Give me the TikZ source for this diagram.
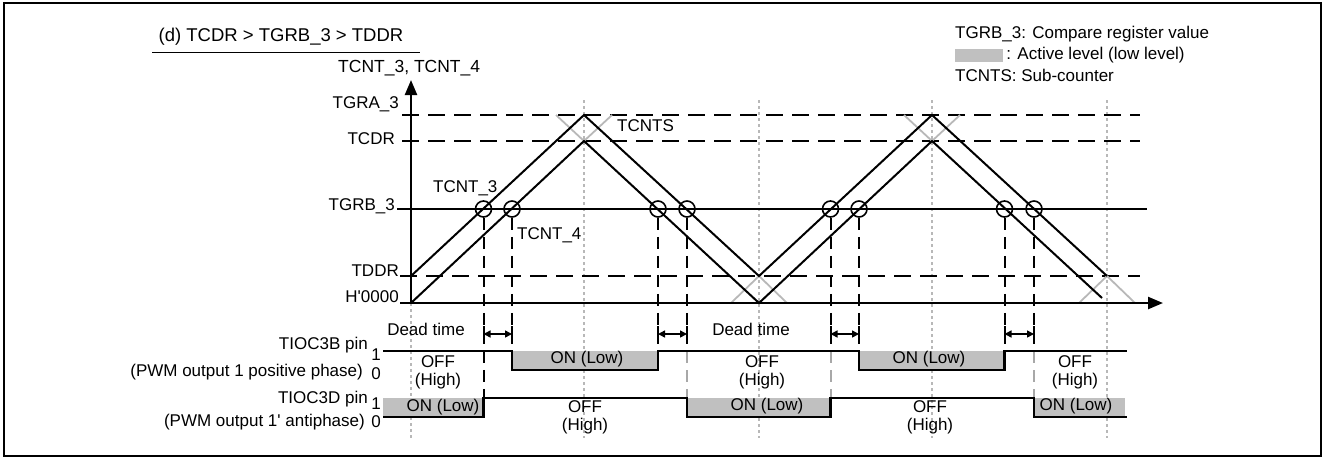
\documentclass[tikz,border=0pt]{standalone}
\usepackage{fontspec}
\setmainfont{Liberation Sans}
\usetikzlibrary{arrows.meta}
\newcommand\sq{\XeTeXglyph\XeTeXcharglyph"0027\relax}
\definecolor{actgray}{HTML}{C0C0C0}
\definecolor{ltgray}{HTML}{B8B8B8}
\definecolor{midgray}{HTML}{A8A8A8}
\begin{document}
\begin{tikzpicture}[x=1pt,y=-1pt,
  txt/.style={font=\fontsize{17}{18}\selectfont, inner sep=0pt, text height=12pt, text depth=3.5pt},
  txt2/.style={font=\fontsize{17}{18}\selectfont, inner sep=0pt, align=center},
  axisline/.style={line width=2.4pt},
  cnt/.style={line width=2pt},
  hdash/.style={line width=2pt, dash pattern=on 17pt off 9pt},
  vdash/.style={line width=2pt, dash pattern=on 12pt off 7pt},
  vdashg/.style={line width=2pt, dash pattern=on 12pt off 7pt, draw=midgray},
  dotv/.style={line width=1.5pt, draw=ltgray, dash pattern=on 3pt off 3pt},
  greyx/.style={line width=1.8pt, draw=ltgray},
  ring/.style={circle, draw, line width=1.6pt, minimum size=16pt, inner sep=0pt},
  wave/.style={line width=2.4pt},
  dtarrow/.style={line width=1.5pt, {Triangle[length=7pt,width=7pt]}-{Triangle[length=7pt,width=7pt]}},
  tip/.style={-{Triangle[length=15pt,width=12pt]}}
]
\useasboundingbox (0,0) rectangle (1327,459);
\draw[line width=2pt] (4,3) rectangle (1321,456);

% dotted grey verticals
\coordinate (d0t) at (411,303); \coordinate (d0b) at (411,438);
\draw[dotv] (d0t) -- (d0b);
\foreach \x/\n in {584/1,759/2,932/3,1107/4}{
  \coordinate (dt\n) at (\x,100); \coordinate (db\n) at (\x,438);
  \draw[dotv] (dt\n) -- (db\n);
}

% title and legend
\node[txt, font=\fontsize{18.5}{19}\selectfont] (title) at (281,37) {(d) TCDR > TGRB\_3 > TDDR};
\coordinate (ul1) at (152,52); \coordinate (ul2) at (420,52);
\draw[line width=1pt] (ul1) -- (ul2);
\node[txt, anchor=west, font=\fontsize{17.5}{18}\selectfont] (ylab) at (338,68) {TCNT\_3, TCNT\_4};
\node[txt, anchor=west] (leg1) at (955,34) {TGRB\_3: Compare register value};
\node[fill=actgray, minimum width=48pt, minimum height=13pt, inner sep=0pt, anchor=west] (legbox) at (955,55) {};
\node[txt, anchor=west] (leg2) at (legbox.east) {\,: Active level (low level)};
\node[txt, anchor=west] (leg3) at (955,77) {TCNTS: Sub-counter};

% level labels
\node[txt, anchor=east] (lA) at (399,104) {TGRA\_3};
\node[txt, anchor=east] (lC) at (395,140) {TCDR};
\node[txt, anchor=east] (lB) at (395,206) {TGRB\_3};
\node[txt, anchor=east] (lD) at (399,272) {TDDR};
\node[txt, anchor=east] (l0) at (399,298) {H\sq0000};

% level lines
\coordinate (a1) at (402,115); \coordinate (a2) at (1140,115);
\coordinate (c1) at (402,141); \coordinate (c2) at (1140,141);
\coordinate (b1) at (397,209); \coordinate (b2) at (1147,209);
\coordinate (e1) at (400,276); \coordinate (e2) at (1140,276);
\draw[hdash] (a1) -- (a2);
\draw[hdash] (c1) -- (c2);
\draw[hdash] (e1) -- (e2);
\draw[cnt] (b1) -- (b2);

% sub-counter grey crossings
\draw[greyx] (556,115) -- (584,141) -- (612,115);
\draw[greyx] (731,303) -- (759,276) -- (787,303);
\draw[greyx] (904,115) -- (932,141) -- (960,115);
\draw[greyx] (1079,303) -- (1107,276) -- (1135,303);

% counters
\coordinate (u0) at (411,276); \coordinate (u1) at (584,115); \coordinate (u2) at (759,276);
\coordinate (u3) at (932,115); \coordinate (u4) at (1107,276);
\coordinate (w0) at (411,303); \coordinate (w1) at (584,141); \coordinate (w2) at (759,303);
\coordinate (w3) at (932,141); \coordinate (w4) at (1102,298);
\draw[cnt] (u0) -- (u1) -- (u2) -- (u3) -- (u4);
\draw[cnt] (w0) -- (w1) -- (w2) -- (w3) -- (w4);

% axes
\coordinate (o) at (411,303); \coordinate (ytop) at (411,80);
\coordinate (xl) at (400,303); \coordinate (xr) at (1163,303);
\draw[axisline, tip] (o) -- (ytop);
\draw[axisline, tip] (xl) -- (xr);

% compare match circles and dashed verticals
\foreach \x/\n in {483.5/1,512/2,658/3,687/4,830.5/5,859/6,1004.5/7,1034/8}{
  \node[ring] (m\n) at (\x,209) {};
}
\coordinate (k1) at (483.5,398); \coordinate (k2) at (512,351); \coordinate (k3) at (658,351);
\coordinate (k4) at (687,351); \coordinate (k5) at (830.5,351); \coordinate (k6) at (859,351);
\coordinate (k7) at (1004.5,351); \coordinate (k8) at (1034,351);
\coordinate (g4) at (687,398); \coordinate (g5) at (830.5,398); \coordinate (g8) at (1034,398);
\foreach \n in {1,...,8}{ \draw[vdash] (m\n.south) -- (k\n); }
\draw[vdashg] (k4) -- (g4);
\draw[vdashg] (k5) -- (g5);
\draw[vdashg] (k8) -- (g8);

% dead time arrows
\foreach \p/\q/\xa/\xb in {1/2/483.5/512, 3/4/658/687, 5/6/830.5/859, 7/8/1004.5/1034}{
  \coordinate (s\p) at (\xa,334); \coordinate (s\q) at (\xb,334);
  \draw[line width=2pt] (\xa,326) -- (\xa,344);
  \draw[line width=2pt] (\xb,326) -- (\xb,344);
  \draw[dtarrow] (s\p) -- (s\q);
}
\node[txt] (dt1) at (426,331) {Dead time};
\node[txt] (dt2) at (751,331) {Dead time};

% TIOC3B waveform
\fill[actgray] (512,351) rectangle (658,370);
\fill[actgray] (859,351) rectangle (1004.5,370);
\draw[wave] (383,351) -- (512,351) -- (512,370) -- (658,370) -- (658,351) -- (859,351) -- (859,370) -- (1004.5,370) -- (1004.5,351) -- (1127,351);
% TIOC3D waveform
\fill[actgray] (383,398) rectangle (483.5,417);
\fill[actgray] (687,398) rectangle (830.5,417);
\fill[actgray] (1034,398) rectangle (1125,417);
\draw[wave] (383,417) -- (483.5,417) -- (483.5,398) -- (687,398) -- (687,417) -- (830.5,417) -- (830.5,398) -- (1034,398) -- (1034,417) -- (1127,417);

% waveform labels
\node[txt2] (bo1) at (438,372) {OFF\\(High)};
\node[txt] (bn1) at (587,359) {ON (Low)};
\node[txt2] (bo2) at (762,372) {OFF\\(High)};
\node[txt] (bn2) at (929,359) {ON (Low)};
\node[txt2] (bo3) at (1075,372) {OFF\\(High)};
\node[txt] (dn1) at (443,407) {ON (Low)};
\node[txt2] (do1) at (585,417) {OFF\\(High)};
\node[txt] (dn2) at (767,406) {ON (Low)};
\node[txt2] (do2) at (930,417) {OFF\\(High)};
\node[txt] (dn3) at (1076,406) {ON (Low)};

% pin labels
\node[txt, anchor=east] (pB) at (368,345) {TIOC3B pin};
\node[txt, anchor=east] (pBs) at (363,372) {(PWM output 1 positive phase)};
\node[txt] (pB1) at (376,356) {1};
\node[txt] (pB0) at (376,375) {0};
\node[txt, anchor=east] (pD) at (368,399) {TIOC3D pin};
\node[txt, anchor=east] (pDs) at (365,422) {(PWM output 1\sq{} antiphase)};
\node[txt] (pD1) at (376,405) {1};
\node[txt] (pD0) at (376,423) {0};

% counter labels
\node[txt, anchor=west] (nS) at (617,127) {TCNTS};
\node[txt, anchor=west] (n3) at (433,188) {TCNT\_3};
\node[txt, anchor=west] (n4) at (517,235) {TCNT\_4};
\end{tikzpicture}
\end{document}
